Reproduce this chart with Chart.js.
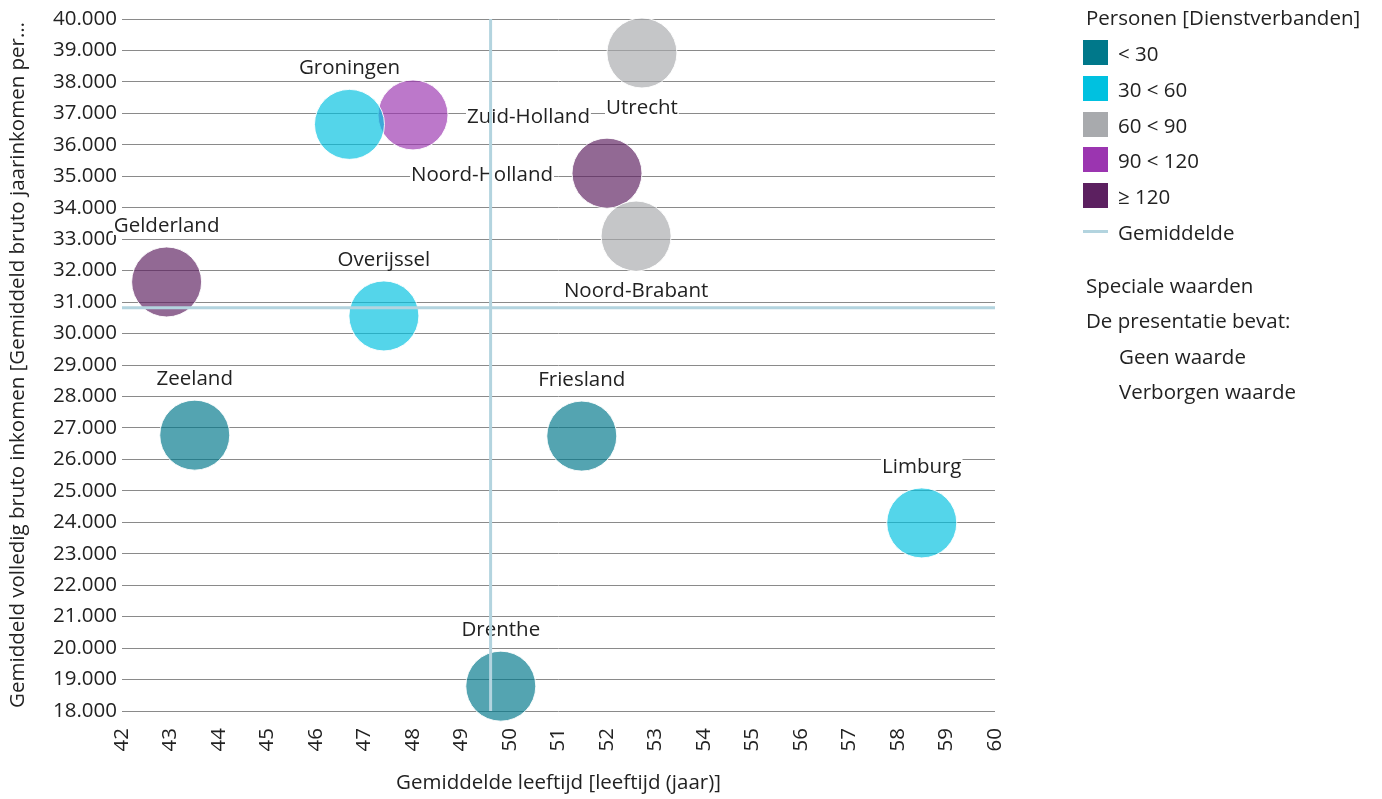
<!DOCTYPE html>
<html>
<head>
<meta charset="utf-8">
<script src="https://cdn.jsdelivr.net/npm/chart.js@4.4.1/dist/chart.umd.min.js"></script>
<style>
  html, body { margin: 0; padding: 0; background: #fff; }
  #wrap { position: relative; width: 1382px; height: 799px; overflow: hidden; }
  canvas { position: absolute; left: 0; top: 0; }
  .lg { position: absolute; font-family: "Open Sans", sans-serif; font-size: 20.5px; color: #222; white-space: nowrap; line-height: 24px; }
  .box { position: absolute; width: 25px; height: 25px; }
  .mline { position: absolute; width: 25px; height: 3px; background: #B3D4DF; }
</style>
</head>
<body>
<div id="wrap">
  <canvas id="c" width="1382" height="799"></canvas>
  <div class="lg" style="left:1086px; top:5px;">Personen [Dienstverbanden]</div>
  <div class="box" style="left:1083px; top:40px; background:#00788A;"></div>
  <div class="lg" style="left:1118px; top:41px;">&lt; 30</div>
  <div class="box" style="left:1083px; top:76px; background:#00C1E0;"></div>
  <div class="lg" style="left:1118px; top:77px;">30 &lt; 60</div>
  <div class="box" style="left:1083px; top:112px; background:#A8AAAD;"></div>
  <div class="lg" style="left:1118px; top:113px;">60 &lt; 90</div>
  <div class="box" style="left:1083px; top:147px; background:#9B35B0;"></div>
  <div class="lg" style="left:1118px; top:148px;">90 &lt; 120</div>
  <div class="box" style="left:1083px; top:183px; background:#5C2060;"></div>
  <div class="lg" style="left:1118px; top:184px;">≥ 120</div>
  <div class="mline" style="left:1083px; top:230px;"></div>
  <div class="lg" style="left:1118px; top:220px;">Gemiddelde</div>
  <div class="lg" style="left:1086px; top:273px;">Speciale waarden</div>
  <div class="lg" style="left:1086px; top:308px;">De presentatie bevat:</div>
  <div class="lg" style="left:1119px; top:344px;">Geen waarde</div>
  <div class="lg" style="left:1119px; top:379px;">Verborgen waarde</div>
</div>
<script>
// ---- data ----
const provinces = ["Groningen", "Zuid-Holland", "Utrecht", "Noord-Holland", "Noord-Brabant", "Gelderland", "Overijssel", "Zeeland", "Friesland", "Limburg", "Drenthe"];
const ages      = [46.69, 48.0, 52.72, 52.0, 52.6, 42.92, 47.4, 43.5, 51.48, 58.49, 49.81];
const incomes   = [36650, 36950, 38920, 35100, 33100, 31640, 30560, 26770, 26740, 23980, 18790];
const classes   = ["30 < 60", "90 < 120", "60 < 90", "≥ 120", "60 < 90", "≥ 120", "30 < 60", "< 30", "< 30", "30 < 60", "< 30"];
const classNames = ["< 30", "30 < 60", "60 < 90", "90 < 120", "≥ 120"];
const meanAge = 49.6;
const meanIncome = 30820;
const xTicks = { min: 42, max: 60, step: 1 };
const yTicks = { min: 18000, max: 40000, step: 1000 };

// ---- styles ----
const classColors = {
  "< 30": "rgba(0,120,138,0.67)",
  "30 < 60": "rgba(0,193,224,0.67)",
  "60 < 90": "rgba(168,170,173,0.67)",
  "90 < 120": "rgba(155,53,176,0.67)",
  "≥ 120": "rgba(92,32,96,0.67)"
};
const labelPlacement = {
  "Zuid-Holland": "right", "Noord-Holland": "left",
  "Utrecht": "below", "Noord-Brabant": "below"
};
const FONT = '"Open Sans", sans-serif';
const FS = 20.5;

// bubbles may spill over the plot edge; do not reserve extra room for them
Chart.BubbleController.prototype.getMaxOverflow = function () { return false; };

const datasets = [];
// mean lines first so they are drawn on top
datasets.push({
  type: 'scatter', label: 'Gemiddelde', showLine: true,
  data: [{ x: xTicks.min, y: meanIncome }, { x: xTicks.max, y: meanIncome }],
  borderColor: '#B3D4DF', borderWidth: 3, pointRadius: 0, clip: false
});
datasets.push({
  type: 'scatter', label: 'Gemiddelde', showLine: true,
  data: [{ x: meanAge, y: yTicks.min }, { x: meanAge, y: yTicks.max }],
  borderColor: '#B3D4DF', borderWidth: 3, pointRadius: 0, clip: false
});
classNames.forEach(cn => {
  const pts = [];
  provinces.forEach((p, i) => { if (classes[i] === cn) pts.push({ x: ages[i], y: incomes[i], name: p }); });
  datasets.push({
    type: 'bubble', label: cn, data: pts,
    backgroundColor: classColors[cn], borderColor: 'rgba(255,255,255,0.9)', borderWidth: 1,
    radius: 35, clip: false
  });
});

const labelPlugin = {
  id: 'provLabels',
  beforeDatasetsDraw(chart) {
    const ctx = chart.ctx;
    const xs = chart.scales.x, ys = chart.scales.y;
    ctx.save();
    ctx.font = FS + 'px ' + FONT;
    ctx.textBaseline = 'middle';
    provinces.forEach((p, i) => {
      const px = xs.getPixelForValue(ages[i]);
      const py = ys.getPixelForValue(incomes[i]);
      const pl = labelPlacement[p] || 'above';
      let tx = px, ty = py, align = 'center';
      if (pl === 'above') { ty = py - 56; }
      else if (pl === 'below') { ty = py + 55; }
      else if (pl === 'right') { tx = px + 54; ty = py + 2; align = 'left'; }
      else if (pl === 'left') { tx = px - 54; ty = py + 2; align = 'right'; }
      const w = ctx.measureText(p).width;
      let left = align === 'center' ? tx - w / 2 : (align === 'left' ? tx : tx - w);
      ctx.fillStyle = '#fff';
      ctx.fillRect(left - 1, ty - 9, w + 2, 18);
      ctx.fillStyle = '#222';
      ctx.textAlign = align;
      ctx.fillText(p, tx, ty);
    });
    ctx.restore();
  }
};

const fmt = v => String(v).replace(/\B(?=(\d{3})+(?!\d))/g, '.');

new Chart(document.getElementById('c'), {
  type: 'bubble',
  data: { datasets },
  plugins: [labelPlugin],
  options: {
    responsive: false,
    animation: false,
    events: [],
    layout: { padding: { top: 19, right: 387, left: 0, bottom: 0 } },
    plugins: { legend: { display: false }, tooltip: { enabled: false } },
    scales: {
      x: {
        type: 'linear', min: xTicks.min, max: xTicks.max,
        grid: { display: false, drawTicks: false },
        border: { display: false },
        ticks: { stepSize: xTicks.step, minRotation: 90, maxRotation: 90, padding: 17, color: '#222', font: { family: FONT, size: FS } },
        title: { display: true, text: 'Gemiddelde leeftijd [leeftijd (jaar)]', color: '#222', font: { family: FONT, size: FS }, padding: { top: 0, bottom: 4 } },
        afterFit(s) { s.height = 88; }
      },
      y: {
        type: 'linear', min: yTicks.min, max: yTicks.max,
        grid: { color: '#8a8a8a', lineWidth: 1, drawTicks: false },
        border: { display: false },
        ticks: { stepSize: yTicks.step, padding: 5, color: '#222', font: { family: FONT, size: FS }, callback: v => fmt(v) },
        title: { display: true, text: 'Gemiddeld volledig bruto inkomen [Gemiddeld bruto jaarinkomen per…', color: '#222', font: { family: FONT, size: FS }, padding: { top: 6, bottom: 0 } },
        afterFit(s) { s.width = 122; }
      }
    }
  }
});
</script>
</body>
</html>
